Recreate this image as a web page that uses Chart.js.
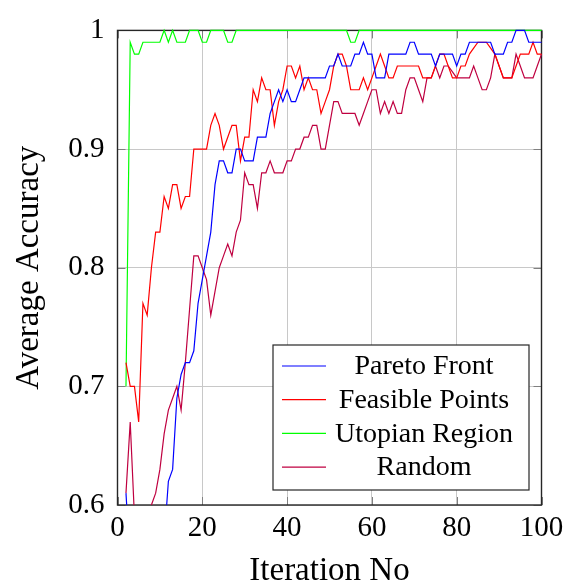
<!DOCTYPE html>
<html>
<head>
<meta charset="utf-8">
<script src="https://cdn.jsdelivr.net/npm/chart.js@4/dist/chart.umd.min.js"></script>
<style>
  html, body { margin: 0; padding: 0; background: #fff; }
  canvas { display: block; }
</style>
</head>
<body>
<canvas id="chartCanvas" width="576" height="586"></canvas>
<script>
// iteration number of each sample
const iterations = [
  2, 3, 4, 5, 6, 7, 8, 9, 10, 11,
  12, 13, 14, 15, 16, 17, 18, 19, 20, 21,
  22, 23, 24, 25, 26, 27, 28, 29, 30, 31,
  32, 33, 34, 35, 36, 37, 38, 39, 40, 41,
  42, 43, 44, 45, 46, 47, 48, 49, 50, 51,
  52, 53, 54, 55, 56, 57, 58, 59, 60, 61,
  62, 63, 64, 65, 66, 67, 68, 69, 70, 71,
  72, 73, 74, 75, 76, 77, 78, 79, 80, 81,
  82, 83, 84, 85, 86, 87, 88, 89, 90, 91,
  92, 93, 94, 95, 96, 97, 98, 99, 100
];

const paretoFront = [
  0.61, 0.55, 0.55, 0.56, 0.55, 0.56, 0.56, 0.57, 0.56, 0.57,
  0.62, 0.63, 0.69, 0.71, 0.72, 0.72, 0.73, 0.77, 0.79, 0.81,
  0.83, 0.87, 0.89, 0.89, 0.88, 0.88, 0.90, 0.90, 0.89, 0.89,
  0.89, 0.91, 0.91, 0.91, 0.93, 0.94, 0.95, 0.94, 0.95, 0.94,
  0.94, 0.95, 0.96, 0.96, 0.96, 0.96, 0.96, 0.96, 0.97, 0.97,
  0.98, 0.97, 0.97, 0.97, 0.98, 0.98, 0.99, 0.98, 0.98, 0.96,
  0.96, 0.96, 0.98, 0.98, 0.98, 0.98, 0.98, 0.99, 0.99, 0.98,
  0.98, 0.98, 0.98, 0.97, 0.98, 0.98, 0.98, 0.98, 0.97, 0.98,
  0.98, 0.99, 0.99, 0.99, 0.99, 0.99, 0.99, 0.98, 0.98, 0.98,
  0.99, 0.99, 1.00, 1.00, 1.00, 0.99, 0.99, 0.99, 0.99
];

const feasiblePoints = [
  0.72, 0.70, 0.70, 0.67, 0.77, 0.76, 0.80, 0.83, 0.83, 0.86,
  0.85, 0.87, 0.87, 0.85, 0.86, 0.86, 0.90, 0.90, 0.90, 0.90,
  0.92, 0.93, 0.92, 0.90, 0.91, 0.92, 0.92, 0.89, 0.91, 0.91,
  0.95, 0.94, 0.96, 0.95, 0.95, 0.92, 0.94, 0.95, 0.97, 0.97,
  0.96, 0.97, 0.95, 0.96, 0.95, 0.95, 0.93, 0.94, 0.95, 0.97,
  0.98, 0.98, 0.97, 0.95, 0.95, 0.95, 0.96, 0.95, 0.96, 0.97,
  0.98, 0.97, 0.96, 0.96, 0.97, 0.97, 0.97, 0.97, 0.97, 0.97,
  0.96, 0.96, 0.96, 0.97, 0.98, 0.98, 0.97, 0.96, 0.96, 0.97,
  0.97, 0.98, 0.985, 0.99, 0.99, 0.99, 0.985, 0.98, 0.97, 0.96,
  0.96, 0.96, 0.97, 0.98, 0.98, 0.98, 0.99, 0.98, 0.98
];

const utopianRegion = [
  0.70, 0.99, 0.98, 0.98, 0.99, 0.99, 0.99, 0.99, 0.99, 1.00,
  0.99, 1.00, 0.99, 0.99, 0.99, 1.00, 1.00, 1.00, 0.99, 0.99,
  1.00, 1.00, 1.00, 1.00, 0.99, 0.99, 1.00, 1.00, 1.00, 1.00,
  1.00, 1.00, 1.00, 1.00, 1.00, 1.00, 1.00, 1.00, 1.00, 1.00,
  1.00, 1.00, 1.00, 1.00, 1.00, 1.00, 1.00, 1.00, 1.00, 1.00,
  1.00, 1.00, 1.00, 0.99, 0.99, 1.00, 1.00, 1.00, 1.00, 1.00,
  1.00, 1.00, 1.00, 1.00, 1.00, 1.00, 1.00, 1.00, 1.00, 1.00,
  1.00, 1.00, 1.00, 1.00, 1.00, 1.00, 1.00, 1.00, 1.00, 1.00,
  1.00, 1.00, 1.00, 1.00, 1.00, 1.00, 1.00, 1.00, 1.00, 1.00,
  1.00, 1.00, 1.00, 1.00, 1.00, 1.00, 1.00, 1.00, 1.00
];

const randomSearch = [
  0.61, 0.67, 0.59, 0.57, 0.56, 0.58, 0.60, 0.61, 0.63, 0.66,
  0.68, 0.69, 0.70, 0.68, 0.72, 0.765, 0.81, 0.81, 0.80, 0.79,
  0.76, 0.78, 0.80, 0.81, 0.82, 0.81, 0.83, 0.84, 0.88, 0.87,
  0.87, 0.85, 0.88, 0.88, 0.89, 0.88, 0.88, 0.88, 0.89, 0.89,
  0.90, 0.90, 0.91, 0.91, 0.92, 0.92, 0.90, 0.90, 0.92, 0.94,
  0.94, 0.93, 0.93, 0.93, 0.93, 0.92, 0.93, 0.94, 0.95, 0.95,
  0.93, 0.94, 0.93, 0.94, 0.93, 0.93, 0.95, 0.96, 0.96, 0.95,
  0.94, 0.96, 0.96, 0.97, 0.96, 0.97, 0.97, 0.965, 0.96, 0.96,
  0.96, 0.96, 0.97, 0.96, 0.95, 0.95, 0.96, 0.98, 0.97, 0.96,
  0.96, 0.96, 0.98, 0.97, 0.96, 0.96, 0.96, 0.97, 0.98
];

const xTicks = [0, 20, 40, 60, 80, 100];
const yTicks = [0.6, 0.7, 0.8, 0.9, 1];

const serif = "'Liberation Serif', 'Times New Roman', serif";

function toPoints(values) {
  return iterations.map((it, i) => ({ x: it, y: values[i] }));
}

function series(label, values, color) {
  return {
    label: label,
    data: toPoints(values),
    borderColor: color,
    backgroundColor: color,
    borderWidth: 1.2,
    pointRadius: 0,
    tension: 0,
    fill: false,
    clip: { left: 0, top: 2, right: 1, bottom: 0 }
  };
}

// axis box, inner tick marks and the framed legend
const pgfLook = {
  id: 'pgf_look',
  beforeDatasetsDraw: (chart) => {
    const c = chart.ctx;
    const a = chart.chartArea;
    const xs = chart.scales.x;
    const ys = chart.scales.y;
    c.save();
    c.strokeStyle = '#808080';
    c.lineWidth = 1;
    c.beginPath();
    xTicks.forEach(t => {
      const px = Math.round(xs.getPixelForValue(t)) + 0.5;
      c.moveTo(px, a.bottom); c.lineTo(px, a.bottom - 8);
      c.moveTo(px, a.top); c.lineTo(px, a.top + 8);
    });
    yTicks.forEach(t => {
      const py = Math.round(ys.getPixelForValue(t)) + 0.5;
      c.moveTo(a.left, py); c.lineTo(a.left + 8, py);
      c.moveTo(a.right, py); c.lineTo(a.right - 8, py);
    });
    c.stroke();
    c.strokeStyle = '#262626';
    c.lineWidth = 1.4;
    c.strokeRect(a.left, a.top, a.right - a.left, a.bottom - a.top);
    c.restore();
  },
  afterDraw: (chart) => {
    const c = chart.ctx;
    const bx = 273, by = 345, bw = 256, bh = 145;
    c.save();
    c.fillStyle = '#ffffff';
    c.fillRect(bx, by, bw, bh);
    c.strokeStyle = '#262626';
    c.lineWidth = 1.2;
    c.strokeRect(bx, by, bw, bh);
    c.font = '28px ' + serif;
    c.textAlign = 'center';
    c.textBaseline = 'middle';
    chart.data.datasets.forEach((ds, i) => {
      const ry = by + 21 + i * 33.7;
      c.strokeStyle = ds.borderColor;
      c.lineWidth = 1.2;
      c.beginPath();
      c.moveTo(bx + 9, ry);
      c.lineTo(bx + 53, ry);
      c.stroke();
      c.fillStyle = '#000';
      c.fillText(ds.label, bx + 151, ry + 1);
    });
    c.restore();
  }
};

const ctx = document.getElementById('chartCanvas').getContext('2d');
const chart = new Chart(ctx, {
  type: 'line',
  data: {
    datasets: [
      series('Pareto Front', paretoFront, 'rgb(0,0,255)'),
      series('Feasible Points', feasiblePoints, 'rgb(255,0,0)'),
      series('Utopian Region', utopianRegion, 'rgb(0,255,0)'),
      series('Random', randomSearch, 'rgb(191,0,64)')
    ]
  },
  options: {
    responsive: false,
    animation: false,
    layout: { padding: { top: 20, right: 34.5, left: 0, bottom: 0 } },
    plugins: {
      legend: { display: false },
      tooltip: { enabled: false }
    },
    scales: {
      x: {
        type: 'linear',
        min: 0,
        max: 100,
        afterBuildTicks: (scale) => { scale.ticks = xTicks.map(v => ({ value: v })); },
        afterFit: (scale) => { scale.height = 81; },
        grid: { color: '#c8c8c8', lineWidth: 1, drawTicks: false },
        border: { display: false },
        ticks: {
          padding: 6,
          color: '#000',
          maxRotation: 0,
          font: { family: serif, size: 29 }
        },
        title: {
          display: true,
          text: 'Iteration No',
          color: '#000',
          padding: { top: 0, bottom: -5 },
          font: { family: serif, size: 33 }
        }
      },
      y: {
        min: 0.6,
        max: 1,
        afterBuildTicks: (scale) => { scale.ticks = yTicks.map(v => ({ value: v })); },
        afterFit: (scale) => { scale.width = 117.5; },
        grid: { color: '#c8c8c8', lineWidth: 1, drawTicks: false },
        border: { display: false },
        ticks: {
          padding: 13,
          color: '#000',
          font: { family: serif, size: 29 },
          callback: (v) => (v === 1 ? '1' : v.toFixed(1))
        },
        title: {
          display: true,
          text: 'Average Accuracy',
          color: '#000',
          padding: { top: 10, bottom: 0 },
          font: { family: serif, size: 33 }
        }
      }
    }
  },
  plugins: [pgfLook]
});
</script>
</body>
</html>
